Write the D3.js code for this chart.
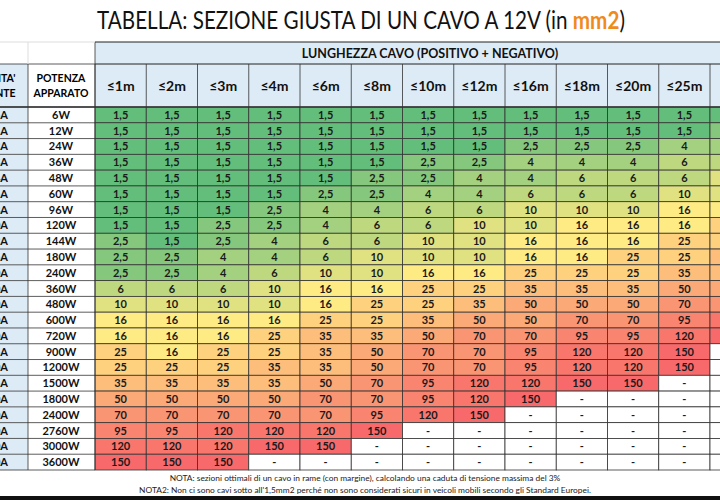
<!DOCTYPE html>
<html>
<head>
<meta charset="utf-8">
<script src="https://cdn.jsdelivr.net/npm/d3@7"></script>
<style>
body { margin: 0; background: #fff; }
svg text { font-family: Lato, "Open Sans", sans-serif; }
</style>
</head>
<body>
<script>
// cable lengths (columns); the last one is cut off at the picture border
const lengths = ["≤1m", "≤2m", "≤3m", "≤4m", "≤6m", "≤8m", "≤10m", "≤12m", "≤16m", "≤18m", "≤20m", "≤25m", "≤30m"];
const powers = ["6W", "12W", "24W", "36W", "48W", "60W", "96W", "120W", "144W", "180W", "240W", "360W",
    "480W", "600W", "720W", "900W", "1200W", "1500W", "1800W", "2400W", "2760W", "3000W", "3600W"];
const currents = ["0,5A", "1A", "2A", "3A", "4A", "5A", "8A", "10A", "12A", "15A", "20A", "30A",
    "40A", "50A", "60A", "75A", "100A", "125A", "150A", "200A", "230A", "250A", "300A"];
// sezioni in mm2, null = "-"
const sections = [
    [1.5, 1.5, 1.5, 1.5, 1.5, 1.5, 1.5, 1.5, 1.5, 1.5, 1.5, 1.5, 1.5],
    [1.5, 1.5, 1.5, 1.5, 1.5, 1.5, 1.5, 1.5, 1.5, 1.5, 1.5, 1.5, 2.5],
    [1.5, 1.5, 1.5, 1.5, 1.5, 1.5, 1.5, 1.5, 2.5, 2.5, 2.5, 4, 4],
    [1.5, 1.5, 1.5, 1.5, 1.5, 1.5, 2.5, 2.5, 4, 4, 4, 6, 6],
    [1.5, 1.5, 1.5, 1.5, 1.5, 2.5, 2.5, 4, 4, 6, 6, 6, 10],
    [1.5, 1.5, 1.5, 1.5, 2.5, 2.5, 4, 4, 6, 6, 6, 10, 10],
    [1.5, 1.5, 1.5, 2.5, 4, 4, 6, 6, 10, 10, 10, 16, 16],
    [1.5, 1.5, 2.5, 2.5, 4, 6, 6, 10, 10, 16, 16, 16, 25],
    [2.5, 1.5, 2.5, 4, 6, 6, 10, 10, 16, 16, 16, 25, 25],
    [2.5, 2.5, 4, 4, 6, 10, 10, 10, 16, 16, 25, 25, 35],
    [2.5, 2.5, 4, 6, 10, 10, 16, 16, 25, 25, 25, 35, 35],
    [6, 6, 6, 10, 16, 16, 25, 25, 35, 35, 35, 50, 50],
    [10, 10, 10, 10, 16, 25, 25, 35, 50, 50, 50, 70, 70],
    [16, 16, 16, 16, 25, 25, 35, 50, 50, 70, 70, 95, 120],
    [16, 16, 16, 25, 35, 35, 50, 70, 70, 95, 95, 120, 150],
    [25, 16, 25, 25, 35, 50, 70, 70, 95, 120, 120, 150, null],
    [25, 25, 25, 35, 35, 50, 70, 70, 95, 120, 120, 150, null],
    [35, 35, 35, 35, 50, 70, 95, 120, 120, 150, 150, null, null],
    [50, 50, 50, 50, 70, 70, 95, 120, 150, null, null, null, null],
    [70, 70, 70, 70, 70, 95, 120, 150, null, null, null, null, null],
    [95, 95, 120, 120, 120, 150, null, null, null, null, null, null, null],
    [120, 120, 120, 150, 150, null, null, null, null, null, null, null, null],
    [150, 150, 150, null, null, null, null, null, null, null, null, null, null]
];
const title = "TABELLA: SEZIONE GIUSTA DI UN CAVO A 12V (in ";
const titleUnit = "mm2";
const notes = [
    "NOTA: sezioni ottimali di un cavo in rame (con margine), calcolando una caduta di tensione massima del 3%",
    "NOTA2: Non ci sono cavi sotto all'1,5mm2 perché non sono considerati sicuri in veicoli mobili secondo gli Standard Europei."
];

const W = 720, H = 500;
const svg = d3.select("body").append("svg").attr("width", W).attr("height", H);

const x = d3.scaleBand().domain(lengths).range([95, 95 + 51.25 * lengths.length]);
const y = d3.scaleBand().domain(powers).range([107, 470]);
const color = d3.scaleLog().domain([1.5, 16, 150]).range(["#63BE7B", "#FFEB84", "#F8696B"]);
const fmt = v => v == null ? "-" : String(v).replace(".", ",");

// title, squeezed horizontally to look like the narrow original font
const tg = svg.append("g");
const t = tg.append("text").attr("x", 0).attr("y", 0).attr("text-anchor", "middle")
    .style("font-size", "25px").attr("fill", "#111");
t.append("tspan").text(title);
t.append("tspan").text(titleUnit).attr("fill", "#F08A1C").style("font-weight", "bold");
t.append("tspan").text(")");
const tw = t.node().getComputedTextLength();
tg.attr("transform", `translate(361,29) scale(${528 / tw},1)`);

// header: lunghezza cavo
svg.append("rect").attr("x", 95).attr("y", 42).attr("width", W).attr("height", 65)
    .attr("fill", "#DDEBF7");
svg.append("text").attr("x", 430).attr("y", 58).attr("text-anchor", "middle")
    .style("font-size", "12.5px").style("font-weight", "bold").attr("fill", "#111")
    .text("LUNGHEZZA CAVO (POSITIVO + NEGATIVO)");
svg.append("line").attr("x1", 95).attr("x2", W).attr("y1", 64).attr("y2", 64).attr("stroke", "#222");
svg.append("line").attr("x1", 95).attr("x2", W).attr("y1", 42).attr("y2", 42).attr("stroke", "#222");

svg.selectAll(".colh").data(lengths.filter(d => x(d) + x.bandwidth() <= W)).join("text")
    .attr("x", d => x(d) + x.bandwidth() / 2).attr("y", 91).attr("text-anchor", "middle")
    .style("font-size", "14px").style("font-weight", "bold").attr("fill", "#111").text(d => d);

// left header cells
svg.append("rect").attr("x", -60).attr("y", 64).attr("width", 88).attr("height", 43).attr("fill", "#DDEBF7");
svg.append("text").attr("x", -12).attr("y", 82).attr("text-anchor", "middle")
    .style("font-size", "10.5px").style("font-weight", "bold").text("INTENSITA'");
svg.append("text").attr("x", -12).attr("y", 97).attr("text-anchor", "middle")
    .style("font-size", "10.5px").style("font-weight", "bold").text("CORRENTE");
svg.append("text").attr("x", 61).attr("y", 82).attr("text-anchor", "middle")
    .style("font-size", "10.5px").style("font-weight", "bold").text("POTENZA");
svg.append("text").attr("x", 61).attr("y", 97).attr("text-anchor", "middle")
    .style("font-size", "10.5px").style("font-weight", "bold").text("APPARATO");

// current column
svg.selectAll(".cur").data(powers).join("rect")
    .attr("x", -60).attr("y", d => y(d)).attr("width", 88).attr("height", y.bandwidth())
    .attr("fill", "#DDEBF7");
svg.selectAll(".curt").data(currents).join("text")
    .attr("x", 8).attr("y", (d, i) => y(powers[i]) + y.bandwidth() / 2 + 4).attr("text-anchor", "end")
    .style("font-size", "11px").style("font-weight", "bold").attr("fill", "#111").text(d => d);
svg.selectAll(".powt").data(powers).join("text")
    .attr("x", 61).attr("y", d => y(d) + y.bandwidth() / 2 + 4).attr("text-anchor", "middle")
    .style("font-size", "11px").style("font-weight", "bold").attr("fill", "#111").text(d => d);

// cells
const cells = [];
sections.forEach((row, i) => row.forEach((v, j) => cells.push({p: powers[i], l: lengths[j], v})));
svg.selectAll(".cell").data(cells).join("rect")
    .attr("x", d => x(d.l)).attr("y", d => y(d.p))
    .attr("width", x.bandwidth()).attr("height", y.bandwidth())
    .attr("fill", d => d.v == null ? "#fff" : color(d.v))
    .attr("stroke", "#333").attr("stroke-width", 0.8);
svg.selectAll(".cellt").data(cells.filter(d => x(d.l) + x.bandwidth() <= W)).join("text")
    .attr("x", d => x(d.l) + x.bandwidth() / 2).attr("y", d => y(d.p) + y.bandwidth() / 2 + 4)
    .attr("text-anchor", "middle").style("font-size", "11px").style("font-weight", "bold")
    .attr("fill", "#1a1a1a").text(d => fmt(d.v));

// grid lines for left columns and header
const g = svg.append("g").attr("stroke", "#333").attr("stroke-width", 0.8);
powers.forEach(p => {
    g.append("line").attr("x1", 0).attr("x2", 95).attr("y1", y(p)).attr("y2", y(p));
});
g.append("line").attr("x1", 0).attr("x2", 95).attr("y1", 470).attr("y2", 470);
[28, 95].forEach(xx => g.append("line").attr("x1", xx).attr("x2", xx).attr("y1", 64).attr("y2", 470));
g.append("line").attr("x1", 0).attr("x2", 95).attr("y1", 64).attr("y2", 64);
g.append("line").attr("x1", 0).attr("x2", W).attr("y1", 107).attr("y2", 107).attr("stroke-width", 1.5);
lengths.forEach(l => g.append("line").attr("x1", x(l)).attr("x2", x(l)).attr("y1", 64).attr("y2", 107));
g.append("line").attr("x1", 95).attr("x2", 95).attr("y1", 42).attr("y2", 64);
svg.append("line").attr("x1", 28).attr("x2", 28).attr("y1", 42).attr("y2", 64).attr("stroke", "#ddd");
svg.append("line").attr("x1", 0).attr("x2", 95).attr("y1", 42).attr("y2", 42).attr("stroke", "#ddd");

// notes
svg.selectAll(".note").data(notes).join("text")
    .attr("x", 365).attr("y", (d, i) => 481 + i * 12).attr("text-anchor", "middle")
    .style("font-size", "8.4px").attr("fill", "#222").text(d => d);
svg.append("rect").attr("x", 0).attr("y", 496).attr("width", W).attr("height", 4).attr("fill", "#111");
</script>
</body>
</html>
